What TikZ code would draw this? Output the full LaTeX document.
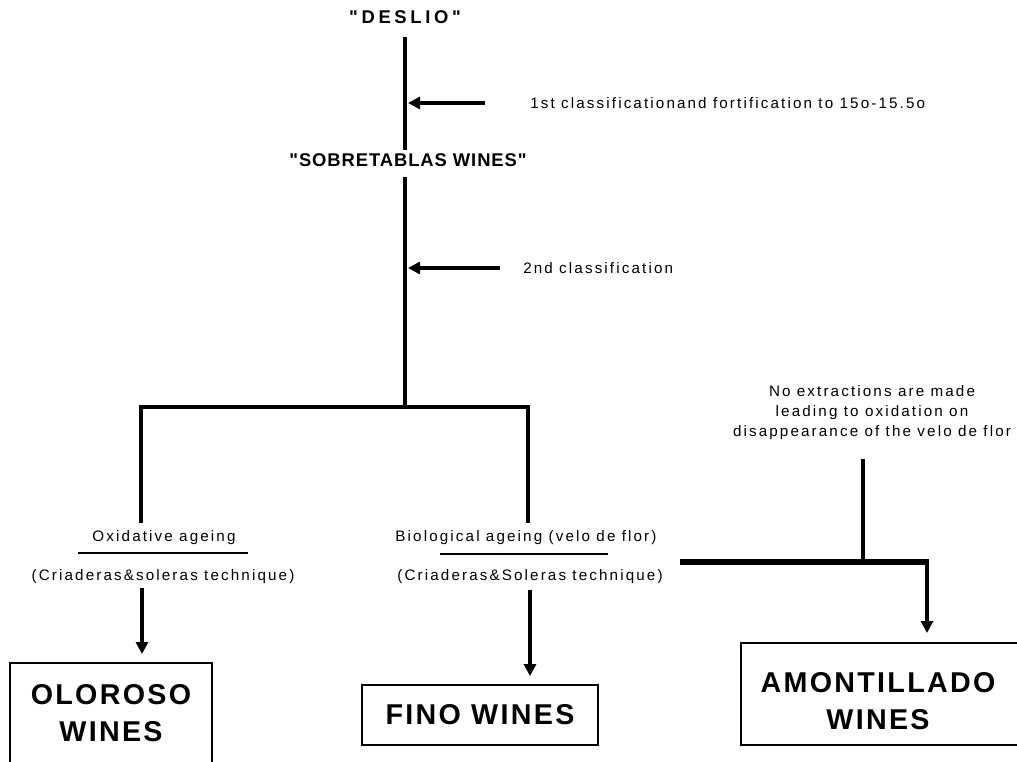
\documentclass[tikz,border=0pt]{standalone}
\usepackage{fontspec}
\setmainfont{Liberation Sans}
\newfontfamily\lsfont{Liberation Sans}[LetterSpace=14]
\newfontfamily\deslfont{Liberation Sans}[LetterSpace=20]
\newfontfamily\sobfont{Liberation Sans}[LetterSpace=5]
\newfontfamily\boxfont{Liberation Sans}[LetterSpace=8]
\usetikzlibrary{arrows.meta}
\tikzset{
  lbl/.style={font=\lsfont\fontsize{11.4}{15}\selectfont, inner sep=0pt},
  ttl/.style={inner sep=0pt},
  boxtxt/.style={font=\boxfont\bfseries\fontsize{21.5}{27.75}\selectfont, align=center, inner sep=0pt},
  trunk/.style={line width=3pt},
  bar/.style={line width=3.5pt, line join=miter},
  thinline/.style={line width=0.8pt},
  arr/.style={line width=2.5pt, -{Triangle[length=9pt,width=9pt]}},
  frame/.style={line width=1pt}
}
\begin{document}
\begin{tikzpicture}[x=0.75pt,y=-0.75pt]
\useasboundingbox (0,0) rectangle (1017,761);
% titles
\node[ttl, font=\deslfont\bfseries\fontsize{13.8}{15}\selectfont] (deslio) at (405,17) {"DESLIO"};
\node[ttl, font=\sobfont\bfseries\fontsize{13.8}{15}\selectfont] (sobre) at (408,160) {"SOBRETABLAS WINES"};
% trunk
\coordinate (t1) at (405,37);
\coordinate (t2) at (405,150);
\coordinate (t3) at (405,177);
\coordinate (jc) at (405,407);
\draw[trunk] (t1) -- (t2);
\draw[trunk] (t3) -- (jc);
% side arrows
\node[lbl, anchor=west] (c1) at (530,103) {1st classificationand fortification to 15o-15.5o};
\coordinate (h1) at (485,103);
\coordinate (m1) at (408,103);
\draw[arr] (h1) -- (m1);
\node[lbl, anchor=west] (c2) at (523,268) {2nd classification};
\coordinate (h2) at (500,268);
\coordinate (m2) at (408,268);
\draw[arr] (h2) -- (m2);
% branch bar
\coordinate (jl) at (141,407);
\coordinate (jr) at (528,407);
\coordinate (dl) at (141,523);
\coordinate (dr) at (528,523);
\draw[bar] (dl) -- (jl) -- (jr) -- (dr);
% left branch
\node[lbl] (ox) at (164,538) {Oxidative ageing};
\coordinate (u1) at (78,553);
\coordinate (u2) at (248,553);
\draw[thinline] (u1) -- (u2);
\node[lbl] (cr1) at (163,577) {(Criaderas\&soleras technique)};
\node[boxtxt] (olo) at (111,713) {OLOROSO\\WINES};
\coordinate (o0) at (142,588);
\coordinate (o1) at (142,654);
\draw[arr, line width=2.3pt] (o0) -- (o1);
\coordinate (ob1) at (10,765);
\coordinate (ob2) at (10,663);
\coordinate (ob3) at (212,663);
\coordinate (ob4) at (212,765);
\draw[frame] (ob1) -- (ob2) -- (ob3) -- (ob4);
% middle branch
\node[lbl] (bio) at (526,538) {Biological ageing (velo de flor)};
\coordinate (u3) at (440,554);
\coordinate (u4) at (608,554);
\draw[thinline] (u3) -- (u4);
\node[lbl] (cr2) at (530,577) {(Criaderas\&Soleras technique)};
\node[boxtxt, draw, line width=1pt, minimum width=177pt, minimum height=45pt] (fino) at (480,715) {FINO WINES};
\coordinate (f0) at (530,590);
\coordinate (f1) at (530,676);
\draw[arr] (f0) -- (f1);
% right branch
\node[lbl, align=center] (note) at (872,413) {No extractions are made\\leading to oxidation on\\disappearance of the velo de flor};
\coordinate (n0) at (863,459);
\coordinate (n1) at (863,562);
\draw[trunk] (n0) -- (n1);
\coordinate (a0) at (680,562);
\coordinate (a1) at (929,562);
\coordinate (a1b) at (927,560);
\coordinate (a2) at (927,633);
\draw[line width=4.5pt] (a0) -- (a1);
\draw[arr, line width=2.8pt] (a1b) -- (a2);
\node[boxtxt] (amo) at (878,701) {AMONTILLADO\\WINES};
\coordinate (ab1) at (1020,643);
\coordinate (ab2) at (741,643);
\coordinate (ab3) at (741,745);
\coordinate (ab4) at (1020,745);
\draw[frame] (ab1) -- (ab2) -- (ab3) -- (ab4);
\end{tikzpicture}
\end{document}
